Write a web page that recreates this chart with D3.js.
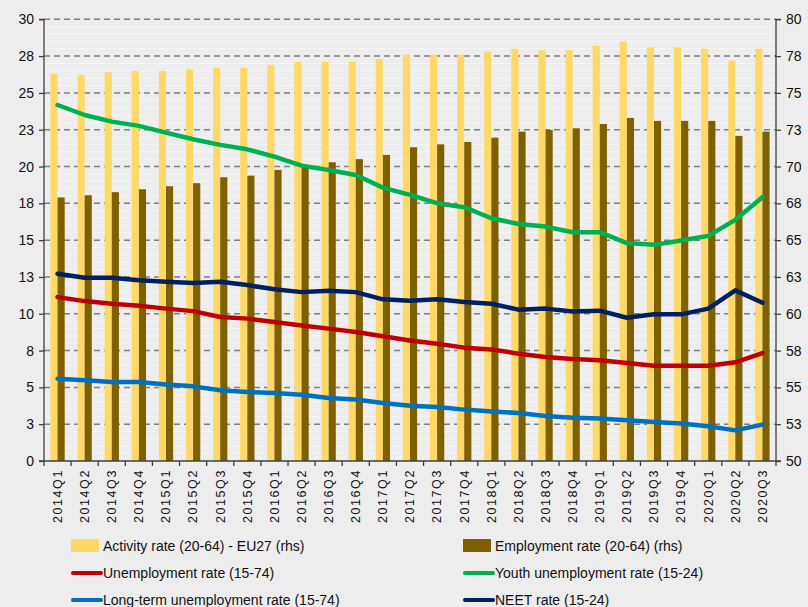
<!DOCTYPE html>
<html>
<head>
<meta charset="utf-8">
<script src="https://cdn.jsdelivr.net/npm/d3@7"></script>
<style>
  body { margin: 0; background: #ededed; }
  svg { display: block; font-family: "Liberation Sans", Arial, sans-serif; }
</style>
</head>
<body>
<div id="chart"></div>
<script>
// quarters on the x axis
const quarters = ["2014Q1","2014Q2","2014Q3","2014Q4","2015Q1","2015Q2","2015Q3","2015Q4",
  "2016Q1","2016Q2","2016Q3","2016Q4","2017Q1","2017Q2","2017Q3","2017Q4",
  "2018Q1","2018Q2","2018Q3","2018Q4","2019Q1","2019Q2","2019Q3","2019Q4",
  "2020Q1","2020Q2","2020Q3"];

// bars, right hand scale
const activityRate = [76.3,76.2,76.4,76.5,76.5,76.6,76.7,76.7,76.9,77.1,77.1,77.1,77.3,77.6,77.6,77.6,
  77.8,78.0,77.9,77.9,78.2,78.5,78.1,78.1,78.0,77.2,78.0];
const employmentRate = [67.9,68.05,68.26,68.46,68.66,68.87,69.27,69.38,69.77,70.0,70.29,70.5,70.79,71.31,71.51,71.67,
  71.96,72.37,72.48,72.6,72.89,73.3,73.1,73.1,73.1,72.08,72.37];

// lines, left hand scale
const unemploymentRate = [11.13,10.86,10.68,10.55,10.35,10.18,9.78,9.67,9.44,9.21,8.99,8.76,8.47,8.19,7.97,7.7,
  7.58,7.29,7.06,6.92,6.84,6.65,6.47,6.47,6.47,6.7,7.33];
const youthUnemployment = [24.18,23.5,23.05,22.76,22.3,21.85,21.47,21.17,20.67,20.06,19.77,19.43,18.57,18.07,17.51,17.24,
  16.49,16.1,15.92,15.54,15.54,14.8,14.68,14.97,15.29,16.38,17.92];
const longTermUnemployment = [5.59,5.48,5.36,5.36,5.19,5.07,4.8,4.68,4.62,4.5,4.28,4.17,3.94,3.76,3.67,3.49,
  3.37,3.26,3.06,2.94,2.88,2.76,2.65,2.54,2.36,2.08,2.47];
const neetRate = [12.72,12.45,12.45,12.27,12.18,12.09,12.18,11.95,11.66,11.47,11.57,11.47,10.98,10.89,10.98,10.8,
  10.68,10.28,10.35,10.16,10.21,9.73,9.96,9.96,10.35,11.59,10.75];

const leftTicks = d3.range(0, 30.01, 2.5);
const rightTicks = d3.range(50, 80.01, 2.5);

const barSeries = [
  { name: "Activity rate (20-64) - EU27 (rhs)", values: activityRate, color: "#ffd966" },
  { name: "Employment rate (20-64) (rhs)", values: employmentRate, color: "#7f6000" }
];
const lineSeries = [
  { name: "Unemployment rate (15-74)", values: unemploymentRate, color: "#c00000" },
  { name: "Youth unemployment rate (15-24)", values: youthUnemployment, color: "#00b050" },
  { name: "Long-term unemployment rate (15-74)", values: longTermUnemployment, color: "#0070c0" },
  { name: "NEET rate (15-24)", values: neetRate, color: "#002060" }
];

const width = 808, height = 607;
const plot = { left: 44, right: 776, top: 19.3, bottom: 461 };

const svg = d3.select("#chart").append("svg")
  .attr("width", width)
  .attr("height", height);

svg.append("rect").attr("width", width).attr("height", height).attr("fill", "#ededed");

const x = d3.scaleBand().domain(quarters).range([plot.left, plot.right]).paddingInner(0);
const xSub = d3.scaleBand().domain([0, 1]).range([0, x.bandwidth()]).paddingOuter(0.9);
const yL = d3.scaleLinear().domain([0, 30]).range([plot.bottom, plot.top]);
const yR = d3.scaleLinear().domain([50, 80]).range([plot.bottom, plot.top]);

// faint minor stripes
svg.append("g")
  .selectAll("line")
  .data(d3.range(0.5, 30, 0.5).filter(v => Math.abs(v / 2.5 - Math.round(v / 2.5)) > 0.01))
  .join("line")
  .attr("x1", plot.left).attr("x2", plot.right)
  .attr("y1", d => yL(d)).attr("y2", d => yL(d))
  .attr("stroke", "#f5f5f5").attr("stroke-width", 1);

// dashed gridlines
svg.append("g")
  .selectAll("line")
  .data(leftTicks.slice(1))
  .join("line")
  .attr("x1", plot.left).attr("x2", plot.right)
  .attr("y1", d => yL(d)).attr("y2", d => yL(d))
  .attr("stroke", "#808080").attr("stroke-width", 1.5)
  .attr("stroke-dasharray", "6,4");

// bars
barSeries.forEach((s, i) => {
  svg.append("g")
    .selectAll("rect")
    .data(s.values)
    .join("rect")
    .attr("x", (d, j) => x(quarters[j]) + xSub(i))
    .attr("width", xSub.bandwidth())
    .attr("y", d => yR(d))
    .attr("height", d => yR(50) - yR(d))
    .attr("fill", s.color);
});

// lines
const line = d3.line()
  .x((d, j) => x(quarters[j]) + x.bandwidth() / 2)
  .y(d => yL(d));

lineSeries.forEach(s => {
  svg.append("path")
    .datum(s.values)
    .attr("d", line)
    .attr("fill", "none")
    .attr("stroke", s.color)
    .attr("stroke-width", 4.5)
    .attr("stroke-linejoin", "round")
    .attr("stroke-linecap", "round");
});

// axes
const axisLeft = svg.append("g")
  .attr("transform", `translate(${plot.left},0)`)
  .call(d3.axisLeft(yL).tickValues(leftTicks).tickFormat(d => Math.round(d)).tickSize(5).tickPadding(5));
const axisRight = svg.append("g")
  .attr("transform", `translate(${plot.right},0)`)
  .call(d3.axisRight(yR).tickValues(rightTicks).tickFormat(d => Math.round(d)).tickSize(5).tickPadding(5));
const axisBottom = svg.append("g")
  .attr("transform", `translate(0,${plot.bottom})`)
  .call(d3.axisBottom(x).tickSize(0).tickPadding(0));

[axisLeft, axisRight].forEach(a => {
  a.select(".domain").attr("stroke", "#404040").attr("stroke-width", 1.3)
    .attr("d", `M${a === axisLeft ? -5 : 5},${plot.top}H0V${plot.bottom}H${a === axisLeft ? -5 : 5}`);
  a.selectAll(".tick line").attr("stroke", "#404040").attr("stroke-width", 1.3);
  a.selectAll("text").attr("font-size", 14).attr("fill", "#111");
});

axisBottom.select(".domain").attr("stroke", "#404040").attr("stroke-width", 1.3)
  .attr("d", `M${plot.left},0H${plot.right}`);
axisBottom.selectAll(".tick text")
  .attr("font-size", 12.5)
  .attr("letter-spacing", 1.6)
  .attr("fill", "#111")
  .attr("text-anchor", "end")
  .attr("dy", "0.35em")
  .attr("transform", "translate(0,8) rotate(-90)")
  .attr("x", 0).attr("y", 0);

// category separator ticks
axisBottom.append("g")
  .selectAll("line")
  .data(quarters.concat(["end"]))
  .join("line")
  .attr("x1", (d, j) => plot.left + j * x.step())
  .attr("x2", (d, j) => plot.left + j * x.step())
  .attr("y1", 0).attr("y2", 5)
  .attr("stroke", "#404040").attr("stroke-width", 1.3);

// legend
const legendItems = [
  { s: barSeries[0], type: "bar", col: 0, row: 0 },
  { s: barSeries[1], type: "bar", col: 1, row: 0 },
  { s: lineSeries[0], type: "line", col: 0, row: 1 },
  { s: lineSeries[1], type: "line", col: 1, row: 1 },
  { s: lineSeries[2], type: "line", col: 0, row: 2 },
  { s: lineSeries[3], type: "line", col: 1, row: 2 }
];
const legend = svg.append("g");
const colX = [71, 463], rowY = [546, 573, 600];
legendItems.forEach(it => {
  const g = legend.append("g").attr("transform", `translate(${colX[it.col]},${rowY[it.row]})`);
  if (it.type === "bar") {
    g.append("rect").attr("x", 0).attr("y", -7).attr("width", 28).attr("height", 13).attr("fill", it.s.color);
  } else {
    g.append("line").attr("x1", 2).attr("x2", 30).attr("y1", 0).attr("y2", 0)
      .attr("stroke", it.s.color).attr("stroke-width", 4).attr("stroke-linecap", "round");
  }
  g.append("text").attr("x", 32).attr("y", 0).attr("dy", "0.35em")
    .attr("font-size", 14).attr("fill", "#111").text(it.s.name);
});
</script>
</body>
</html>
